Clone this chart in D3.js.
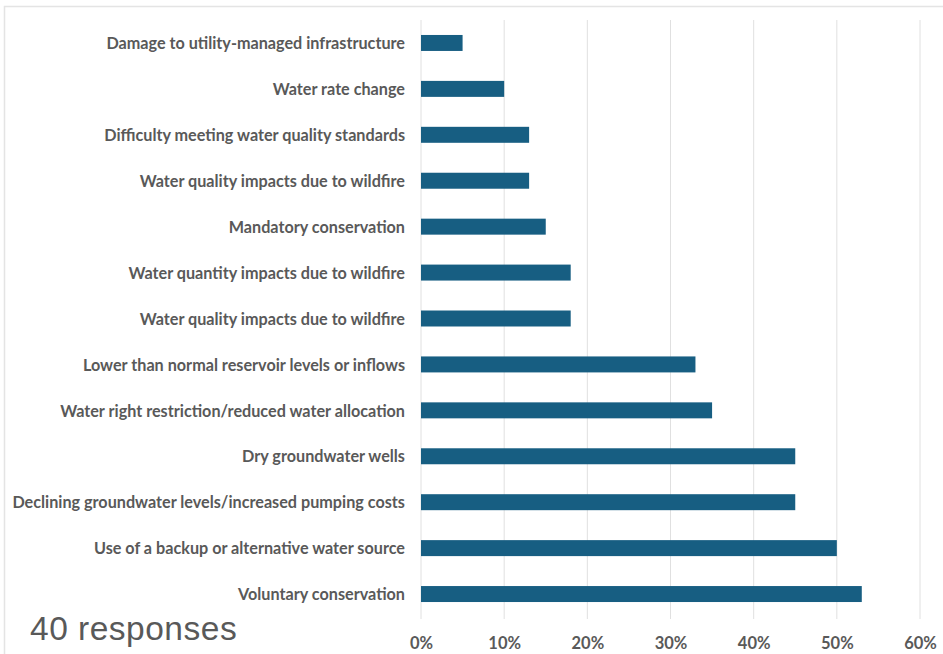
<!DOCTYPE html>
<html><head><meta charset="utf-8">
<script src="https://cdn.jsdelivr.net/npm/d3@7"></script>
<style>
html,body{margin:0;padding:0;background:#fff;}
svg{display:block;}
</style></head>
<body>
<svg id="chart" width="943" height="654"></svg>
<script>
const categories = [
  "Damage to utility-managed infrastructure",
  "Water rate change",
  "Difficulty meeting water quality standards",
  "Water quality impacts due to wildfire",
  "Mandatory conservation",
  "Water quantity impacts due to wildfire",
  "Water quality impacts due to wildfire ",
  "Lower than normal reservoir levels or inflows",
  "Water right restriction/reduced water allocation",
  "Dry groundwater wells",
  "Declining groundwater levels/increased pumping costs",
  "Use of a backup or alternative water source",
  "Voluntary conservation"
];
const values = [5, 10, 13, 13, 15, 18, 18, 33, 35, 45, 45, 50, 53];
const tickValues = [0, 10, 20, 30, 40, 50, 60];
const note = "40 responses";

(function () {
const svg = d3.select("#chart");
const W = 943, H = 654;
const mLeft = 421, mRight = 920, mTop = 20, mBottom = 617;

// frame
svg.append("path")
  .attr("d", `M4.5,${H} V6.5 H${W}`)
  .attr("fill", "none").attr("stroke", "#e4e4e4").attr("stroke-width", 1.5);

const x = d3.scaleLinear().domain([0, 60]).range([mLeft, mRight]);
const y = d3.scaleBand().domain(categories).range([mTop, mBottom]).paddingInner(0.652).paddingOuter(0.326);

// gridlines
svg.append("g").selectAll("line").data(tickValues).join("line")
  .attr("x1", d => x(d)).attr("x2", d => x(d))
  .attr("y1", mTop).attr("y2", mBottom + 2)
  .attr("stroke", "#e0e0e0").attr("stroke-width", 1);

// bars
svg.append("g").selectAll("rect").data(values).join("rect")
  .attr("x", x(0))
  .attr("y", (d, i) => y(categories[i]))
  .attr("width", d => x(d) - x(0))
  .attr("height", y.bandwidth())
  .attr("fill", "#175e82");

// category labels via axis
const yAxis = svg.append("g").attr("transform", `translate(${mLeft},0)`)
  .call(d3.axisLeft(y).tickSize(0).tickPadding(16));
yAxis.select(".domain").remove();
yAxis.selectAll("text")
  .attr("fill", "#595959")
  .attr("dy", "0.38em")
  .style("font-family", "Lato, 'Open Sans', sans-serif")
  .style("font-weight", "700")
  .style("font-size", "16.2px");

// x axis
const xAxis = svg.append("g").attr("transform", `translate(0,${mBottom})`)
  .call(d3.axisBottom(x).tickValues(tickValues).tickFormat(d => d + "%").tickSize(0).tickPadding(20));
xAxis.select(".domain").remove();
xAxis.selectAll("text")
  .attr("fill", "#595959")
  .style("font-family", "Lato, 'Open Sans', sans-serif")
  .style("font-weight", "700")
  .style("font-size", "16.5px");

// note
svg.append("text")
  .attr("x", 30).attr("y", 639.5)
  .attr("fill", "#595959")
  .style("font-family", "'Liberation Sans', Arial, sans-serif")
  .style("font-size", "33.5px")
  .style("letter-spacing", "0.5px")
  .text(note);
})();
</script>
</body></html>
